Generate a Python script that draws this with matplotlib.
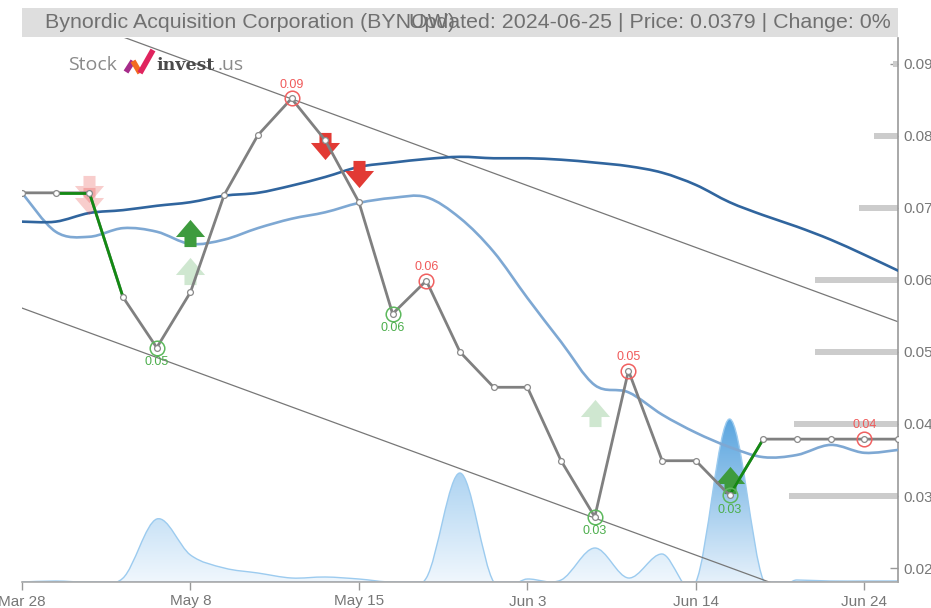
import numpy as np
import matplotlib
matplotlib.use("Agg")
import matplotlib.pyplot as plt
from matplotlib.path import Path
from matplotlib.patches import PathPatch, Rectangle
from matplotlib.lines import Line2D
from matplotlib.colors import LinearSegmentedColormap

plt.rcParams['font.family'] = ['Liberation Sans', 'DejaVu Sans']

# ---- data ----
tick_idx = [0, 5, 10, 15, 20, 25]
tick_labels = ["Mar 28", "May 8", "May 15", "Jun 3", "Jun 14", "Jun 24"]

prices = [0.0721, 0.0721, 0.0721, 0.0576, 0.0506, 0.0583, 0.0718, 0.0801, 0.0852,
          0.0794, 0.0708, 0.0553, 0.0599, 0.0500, 0.0451, 0.0451, 0.0349, 0.0271,
          0.0474, 0.0349, 0.0349, 0.0301, 0.0379, 0.0379, 0.0379, 0.0379, 0.0379]

ma_long = [0.0681, 0.0681, 0.0693, 0.0697, 0.0703, 0.0708, 0.0717, 0.0721, 0.0731,
           0.0743, 0.0757, 0.0763, 0.0768, 0.0771, 0.0769, 0.0769, 0.0767, 0.0763,
           0.0758, 0.0749, 0.0732, 0.0708, 0.0690, 0.0674, 0.0656, 0.0635, 0.0613]

ma_short = [0.0721, 0.0667, 0.0660, 0.0672, 0.0667, 0.0650, 0.0656, 0.0672, 0.0685,
            0.0694, 0.0707, 0.0714, 0.0715, 0.0686, 0.0639, 0.0575, 0.0514, 0.0454,
            0.0444, 0.0413, 0.0388, 0.0368, 0.0354, 0.0357, 0.0371, 0.0360, 0.0364]

volume = [0, 1000, 0, 4000, 63000, 27000, 14000, 9000, 4000, 5000, 3000, 0, 4000,
          109000, 0, 3000, 2000, 34000, 4000, 28000, 0, 163000, 2000, 2000, 1000, 1000, 1000]

# trend channel (value at first and last index)
channel_upper = [0.0989, 0.0542]
channel_lower = [0.0561, 0.0115]

# volume by price level (relative), drawn from the right axis
level_prices = [0.03, 0.04, 0.05, 0.06, 0.07, 0.08, 0.09]
level_volume = [109, 104, 83, 83, 39, 24, 5]

high_idx = [8, 12, 18, 25]
low_idx = [4, 11, 17, 21]
green_segments = [(1, 2), (2, 3), (21, 22)]

sell_signals = [(9, 0.0786), (10, 0.0747)]
sell_faded = [(2, 0.0726), (2, 0.0710)]
buy_signals = [(5, 0.0665), (21, 0.0322)]
buy_faded = [(5, 0.0613), (17, 0.0415)]

title_left = "Bynordic Acquisition Corporation (BYNOW)"
title_right = "Updated: 2024-06-25 | Price: 0.0379 | Change: 0%"


def smooth_path(xs, ys):
    # catmull-rom through the points, drawn as cubic bezier segments
    verts = [(xs[0], ys[0])]
    codes = [Path.MOVETO]
    n = len(xs)
    for i in range(n - 1):
        j0 = max(i - 1, 0)
        j3 = min(i + 2, n - 1)
        c1 = (xs[i] + (xs[i + 1] - xs[j0]) / 6, ys[i] + (ys[i + 1] - ys[j0]) / 6)
        c2 = (xs[i + 1] - (xs[j3] - xs[i]) / 6, ys[i + 1] - (ys[j3] - ys[i]) / 6)
        verts += [c1, c2, (xs[i + 1], ys[i + 1])]
        codes += [Path.CURVE4] * 3
    return verts, codes


def arrow_marker(up=True):
    pts = [(0, 13.5), (14.5, -3.5), (6, -3.5), (6, -13.5), (-6, -13.5),
           (-6, -3.5), (-14.5, -3.5), (0, 13.5)]
    if not up:
        pts = [(x, -y) for x, y in pts]
    return Path(pts, [Path.MOVETO] + [Path.LINETO] * 6 + [Path.CLOSEPOLY])


W, H = 931, 608
fig = plt.figure(figsize=(W / 100, H / 100), dpi=100)
rect = [22 / W, 26 / H, 876 / W, 544 / H]
x = np.arange(len(prices))
n_last = len(prices) - 1

# ---- volume (behind everything) ----
vax = fig.add_axes(rect)
vax.set_xlim(0, n_last)
vax.set_ylim(0, max(volume) * 544 / 163)
vax.axis('off')
vv, vc = smooth_path(list(x), volume)
vv = vv + [(n_last, 0), (0, 0), (0, 0)]
vc = vc + [Path.LINETO, Path.LINETO, Path.CLOSEPOLY]
vpatch = PathPatch(Path(vv, vc), facecolor='none', edgecolor='none')
vax.add_patch(vpatch)
grad = np.linspace(0, 1, 256).reshape(-1, 1)
cm_light = LinearSegmentedColormap.from_list('vl', ['#f0f7fd', '#8dc2ec'])
cm_dark = LinearSegmentedColormap.from_list('vd', ['#e6f1fb', '#5aa5df'])
im = vax.imshow(grad, cmap=cm_light, origin='lower', aspect='auto',
                extent=[0, n_last, 0, max(volume)])
im.set_clip_path(vpatch)
big = int(np.argmax(volume))
im2 = vax.imshow(grad, cmap=cm_dark, origin='lower', aspect='auto',
                 extent=[big - 1, big + 1, 0, max(volume)])
im2.set_clip_path(vpatch)
vline_v, vline_c = smooth_path(list(x), volume)
vax.add_patch(PathPatch(Path(vline_v, vline_c), facecolor='none',
                        edgecolor='#9ccbef', lw=1))
vax.axhline(0, color='#a9c8e4', lw=2)

# ---- main price axes ----
ax = fig.add_axes(rect)
ax.patch.set_visible(False)
ax.set_xlim(0, n_last)
ax.set_ylim(0.01806, 0.0936)

# channel
ax.plot([0, n_last], channel_upper, color='#777777', lw=0.9, zorder=2)
ax.plot([0, n_last], channel_lower, color='#777777', lw=0.9, zorder=2)

# volume-at-price bars on the right
bar_len = [v / max(level_volume) * (109 / 33.7) for v in level_volume]
ax.barh(level_prices, [-b for b in bar_len], left=n_last, height=0.00095,
        color='#cccccc', zorder=2)

# moving averages
for series, col in [(ma_short, '#7ea8d3'), (ma_long, '#30659e')]:
    pv, pc = smooth_path(list(x), series)
    ax.add_patch(PathPatch(Path(pv, pc), facecolor='none', edgecolor=col,
                           lw=1.9, zorder=3, capstyle='round'))

# signal arrows
up_m = arrow_marker(True)
down_m = arrow_marker(False)
for i, v in sell_faded:
    ax.plot(i, v, marker=down_m, ms=21, color='#e53935', alpha=0.25, mew=0, zorder=4)
for i, v in buy_faded:
    ax.plot(i, v, marker=up_m, ms=21, color='#43a047', alpha=0.25, mew=0, zorder=4)
for i, v in sell_signals:
    ax.plot(i, v, marker=down_m, ms=21, color='#e23a34', mew=0, zorder=4)
for i, v in buy_signals:
    ax.plot(i, v, marker=up_m, ms=21, color='#3e9b3e', mew=0, zorder=4)

# price line
ax.plot(x, prices, color='#808080', lw=2, zorder=5, solid_capstyle='round')
for a, b in green_segments:
    ax.plot([a, b], [prices[a], prices[b]], color='#138a13', lw=2, zorder=6,
            solid_capstyle='round')
ax.plot(x, prices, 'o', ms=4.2, mfc='white', mec='#8a8a8a', mew=0.9, zorder=7)

# highs / lows
for i in high_idx:
    ax.plot(i, prices[i], 'o', ms=10.5, mfc='none', mec='#f06060', mew=1.1, zorder=8)
    ax.annotate(f"{prices[i]:.2f}", (i, prices[i]), xytext=(0, 5.5),
                textcoords='offset points', ha='center', va='bottom',
                fontsize=9, color='#f05a5a', zorder=8)
for i in low_idx:
    ax.plot(i, prices[i], 'o', ms=10.5, mfc='none', mec='#5cb85c', mew=1.1, zorder=8)
    ax.annotate(f"{prices[i]:.2f}", (i, prices[i]), xytext=(0, -6),
                textcoords='offset points', ha='center', va='top',
                fontsize=9, color='#4cae4c', zorder=8)

# axes styling
for s in ['top', 'left']:
    ax.spines[s].set_visible(False)
ax.spines['right'].set_color('#999999')
ax.spines['bottom'].set_color('#aaaaaa')
ax.spines['right'].set_linewidth(1.2)
ax.spines['bottom'].set_linewidth(1.2)
ax.yaxis.tick_right()
ax.set_yticks([0.02, 0.03, 0.04, 0.05, 0.06, 0.07, 0.08, 0.09])
ax.set_yticklabels([f"{t:.2f}" for t in ax.get_yticks()])
ax.tick_params(axis='y', direction='in', length=6, width=1, color='#999999',
               labelcolor='#777777', labelsize=11, pad=4)
ax.set_xticks(tick_idx)
ax.set_xticklabels(tick_labels)
ax.tick_params(axis='x', direction='out', length=6, width=1, color='#999999',
               labelcolor='#777777', labelsize=11, pad=3)

# ---- header bar ----
fig.patches.append(Rectangle((22 / W, (H - 37) / H), 876 / W, 29 / H,
                             transform=fig.transFigure, facecolor='#dedede',
                             edgecolor='none', zorder=0))
fig.text(45 / W, (H - 23) / H, title_left, ha='left', va='center',
         fontsize=15.4, color='#707070')
fig.text(891 / W, (H - 23) / H, title_right, ha='right', va='center',
         fontsize=15.4, color='#707070')

# ---- logo ----
fig.text(68 / W, (H - 65) / H, "Stock", ha='left', va='center', fontsize=14,
         color='#8a8a8a', family=['Open Sans', 'DejaVu Sans'])
logo_pts = [(126, 72), (133, 61), (140, 73), (153, 50)]
logo_cols = ['#a62c8a', '#f26b21', '#e0245e']
for k in range(3):
    (x0, y0), (x1, y1) = logo_pts[k], logo_pts[k + 1]
    fig.add_artist(Line2D([x0 / W, x1 / W], [(H - y0) / H, (H - y1) / H],
                          transform=fig.transFigure, color=logo_cols[k], lw=4,
                          solid_capstyle='butt'))
fig.text(156 / W, (H - 65) / H, "invest", ha='left', va='center', fontsize=12.5,
         color='#4a4a4a', fontweight='bold', family=['DejaVu Serif'])
fig.text(218 / W, (H - 65) / H, ".us", ha='left', va='center', fontsize=14,
         color='#8a8a8a', family=['Open Sans', 'DejaVu Sans'])

fig.savefig('out.png', dpi=100)
